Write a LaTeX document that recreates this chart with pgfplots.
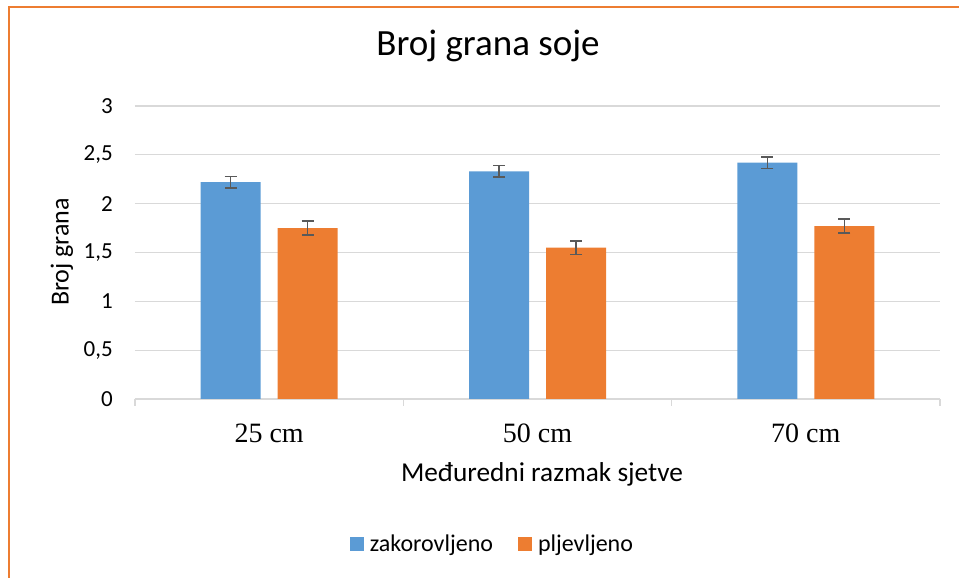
\documentclass[border=0pt]{standalone}
\usepackage{fontspec}
\setmainfont{Carlito}
\newfontfamily\tnr{Liberation Serif}
\usepackage{pgfplots}
\pgfplotsset{compat=1.18}
\definecolor{cblue}{HTML}{5B9BD5}
\definecolor{corange}{HTML}{ED7D31}
\definecolor{cgrid}{HTML}{D9D9D9}
\definecolor{cerr}{HTML}{595959}
\begin{document}
\begin{tikzpicture}[x=1pt,y=1pt]
\useasboundingbox (0,0) rectangle (959,578);
\draw[corange, line width=2pt] (8.5,0) -- (8.5,570.5) -- (959,570.5);
\begin{axis}[
  at={(135pt,179pt)}, anchor=south west,
  scale only axis, width=805pt, height=293pt,
  ybar=17pt, bar width=60pt,
  xmin=-0.5, xmax=2.5, ymin=0, ymax=3,
  xtick={0,1,2}, xticklabels={25 cm,50 cm,70 cm},
  ytick={0,0.5,1,1.5,2,2.5,3},
  major tick length=0pt,
  /pgf/number format/use comma,
  /pgf/number format/assume math mode=true,
  yticklabel style={font=\fontsize{23}{26}\selectfont, anchor=east, inner sep=0pt, xshift=-22pt},
  xticklabel style={font=\tnr\fontsize{28}{32}\selectfont, anchor=base, inner sep=0pt, yshift=-43.7pt},
  ymajorgrids, grid style={cgrid, line width=1.3pt},
  axis x line*=bottom, axis y line*=left,
  x axis line style={cgrid, line width=1.3pt, -},
  y axis line style={draw=none},
  extra x ticks={-0.5,0.5,1.5,2.5}, extra x tick labels={},
  extra x tick style={major tick length=7pt, tick align=outside, tick style={cgrid, line width=1.3pt}, grid=none},
  title={Broj grana soje},
  title style={font=\fontsize{37}{41}\selectfont, at={(axis description cs:0.4385,1.151)}, anchor=base, inner sep=0pt},
  ylabel={Broj grana},
  ylabel style={font=\fontsize{26}{30}\selectfont, at={(axis description cs:-0.0907,0.502)}, anchor=center, rotate=0, inner sep=0pt},
  xlabel={Međuredni razmak sjetve},
  xlabel style={font=\fontsize{27.3}{31}\selectfont, at={(axis description cs:0.5056,-0.282)}, anchor=base, inner sep=0pt},
  legend columns=2,
  legend style={draw=none, fill=none, at={(axis description cs:0.444,-0.495)}, anchor=center,
    font=\fontsize{24}{27}\selectfont,
    /tikz/every even column/.append style={column sep=23pt}},
  legend image code/.code={\fill[#1, draw=none] (0pt,-7pt) rectangle (14pt,7pt); \path (18pt,0pt);},
  error bars/error bar style={cerr, line width=1.6pt},
  error bars/error mark options={cerr, line width=1.6pt, mark size=6pt, rotate=90},
]
\addplot[fill=cblue, draw=none, error bars/.cd, y dir=both, y explicit]
  coordinates {(0,2.22) +- (0,0.06) (1,2.33) +- (0,0.06) (2,2.42) +- (0,0.06)};
\addplot[fill=corange, draw=none, error bars/.cd, y dir=both, y explicit]
  coordinates {(0,1.75) +- (0,0.07) (1,1.55) +- (0,0.07) (2,1.77) +- (0,0.07)};
\legend{zakorovljeno,pljevljeno}
\end{axis}
\end{tikzpicture}
\end{document}
